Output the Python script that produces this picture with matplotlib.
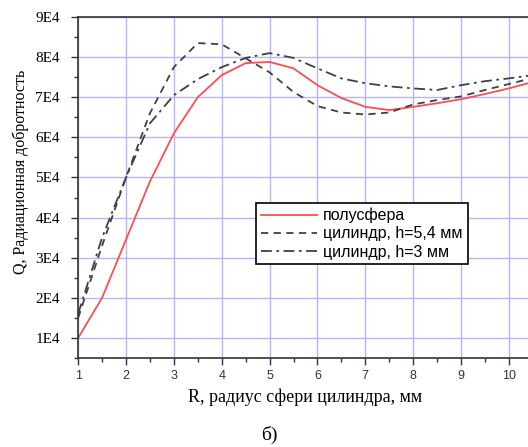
import matplotlib
matplotlib.use('Agg')
import matplotlib.pyplot as plt
from matplotlib.ticker import MultipleLocator, FuncFormatter

# R, mm
r = [1, 1.5, 2, 2.5, 3, 3.5, 4, 4.5, 5, 5.5, 6, 6.5, 7, 7.5, 8, 8.5, 9, 9.5, 10, 10.5]
# Q / 1E4
q_hemi = [1.0, 2.0, 3.45, 4.9, 6.1, 7.0, 7.55, 7.85, 7.88, 7.72, 7.3, 6.98, 6.76, 6.68, 6.76, 6.85, 6.95, 7.08, 7.22, 7.38]
q_cyl54 = [1.5, 3.3, 5.0, 6.6, 7.75, 8.35, 8.32, 7.97, 7.62, 7.13, 6.78, 6.62, 6.57, 6.62, 6.82, 6.93, 7.02, 7.18, 7.33, 7.48]
q_cyl3 = [1.6, 3.5, 5.0, 6.35, 7.05, 7.45, 7.75, 7.98, 8.1, 7.98, 7.72, 7.47, 7.35, 7.27, 7.22, 7.18, 7.3, 7.4, 7.47, 7.55]

labels = ['полусфера', 'цилиндр, h=5,4 мм', 'цилиндр, h=3 мм']

fig = plt.figure(figsize=(5.28, 4.47), dpi=100)
ax = fig.add_axes([0.148, 0.199, 0.852, 0.763])

ax.plot(r, [v * 1e4 for v in q_hemi], color='#ff4d4d', lw=1.3, label=labels[0])
ax.plot(r, [v * 1e4 for v in q_cyl54], color='#404040', lw=1.3, ls=(0, (4, 3)), label=labels[1])
ax.plot(r, [v * 1e4 for v in q_cyl3], color='#404040', lw=1.3, ls=(0, (6, 2.5, 1.5, 2.5)), label=labels[2])

ax.set_xlim(1, 10.4)
ax.set_ylim(0.5e4, 9e4)
ax.xaxis.set_major_locator(MultipleLocator(1))
ax.xaxis.set_minor_locator(MultipleLocator(0.5))
ax.yaxis.set_major_locator(MultipleLocator(1e4))
ax.yaxis.set_minor_locator(MultipleLocator(0.5e4))
ax.yaxis.set_major_formatter(FuncFormatter(lambda v, p: '%dE4' % round(v / 1e4)))
ax.grid(True, which='major', color='#b4b4ff', lw=1.0)
ax.set_axisbelow(True)

ax.spines['right'].set_visible(False)
for s in ['left', 'bottom', 'top']:
    ax.spines[s].set_linewidth(1.2)
    ax.spines[s].set_color('#333333')

ax.tick_params(which='major', length=5, width=1, color='#333333')
ax.tick_params(which='minor', length=3, width=1, color='#333333')
ax.tick_params(axis='y', which='major', pad=8)
for t in ax.get_yticklabels():
    t.set_fontfamily('Liberation Serif')
    t.set_fontsize(11)
for t in ax.get_xticklabels():
    t.set_fontfamily('Liberation Sans')
    t.set_fontsize(9)
    t.set_color('#333333')

ax.set_xlabel('R, радиус сфери цилиндра, мм', family='Liberation Serif', fontsize=13)
ax.xaxis.set_label_coords(0.505, -0.09)
ax.set_ylabel('Q, Радиационная добротность', family='Liberation Serif', fontsize=11.5)
ax.yaxis.set_label_coords(-0.11, 0.547)

leg = ax.legend(loc='upper left', bbox_to_anchor=(0.396, 0.455), prop={'family': 'Liberation Sans', 'size': 11.5},
                frameon=True, fancybox=False, framealpha=1, edgecolor='black',
                handlelength=3.5, handletextpad=0.4, labelspacing=0.2, borderpad=0.3, borderaxespad=0)
leg.get_frame().set_linewidth(1.2)

fig.text(0.511, 0.028, 'б)', family='Liberation Serif', fontsize=14, ha='center', va='center')

fig.savefig('out.png', dpi=100)
